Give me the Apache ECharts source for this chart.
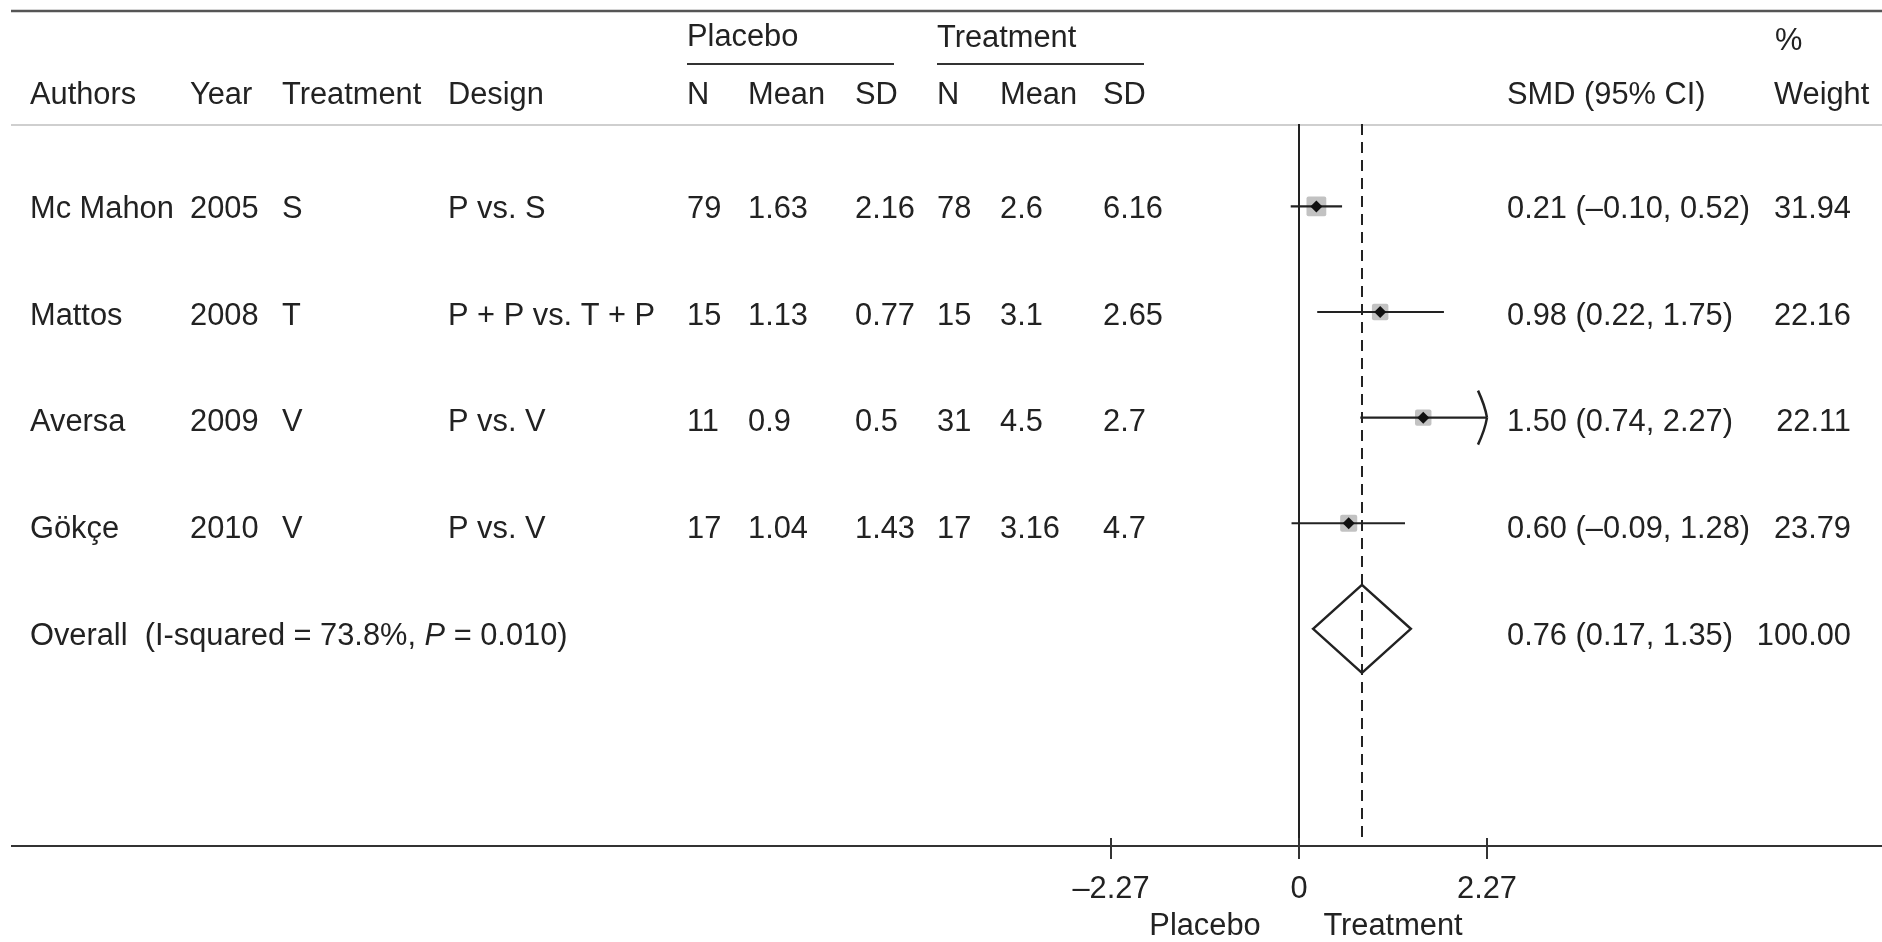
<!DOCTYPE html>
<html>
<head>
<meta charset="utf-8">
<script src="https://cdn.jsdelivr.net/npm/echarts@6/dist/echarts.min.js"></script>
<style>
html,body{margin:0;padding:0;background:#fff;}
#chart{width:1882px;height:942px;}
</style>
</head>
<body>
<div id="chart"></div>
<script>
// ---------- DATA ----------
const authors = ['Mc Mahon', 'Mattos', 'Aversa', 'Gökçe'];
const years = ['2005', '2008', '2009', '2010'];
const treatments = ['S', 'T', 'V', 'V'];
const designs = ['P vs. S', 'P + P vs. T + P', 'P vs. V', 'P vs. V'];
const placeboN = ['79', '15', '11', '17'];
const placeboMean = ['1.63', '1.13', '0.9', '1.04'];
const placeboSD = ['2.16', '0.77', '0.5', '1.43'];
const treatN = ['78', '15', '31', '17'];
const treatMean = ['2.6', '3.1', '4.5', '3.16'];
const treatSD = ['6.16', '2.65', '2.7', '4.7'];
const smd = [0.21, 0.98, 1.50, 0.60];
const ciLow = [-0.10, 0.22, 0.74, -0.09];
const ciHigh = [0.52, 1.75, 2.27, 1.28];
const weights = [31.94, 22.16, 22.11, 23.79];
const overallSMD = 0.76, overallLow = 0.17, overallHigh = 1.35, overallWeight = 100.00;
const iSquared = '73.8', pValue = '0.010';
const tickValues = [-2.27, 0, 2.27];
const axisSideLabels = ['Placebo', 'Treatment'];

// ---------- LAYOUT / STYLE ----------
const FONT = "'Liberation Sans', Arial, sans-serif";
const FS = 30.8;
const TXT = '#222';
const colX = {authors: 30, year: 190, treat: 282, design: 448, pN: 687, pMean: 748, pSD: 855,
              tN: 937, tMean: 1000, tSD: 1103, smd: 1507, weight: 1851};
const sqK = 3.5;
const Y_MIN = 0.22, Y_MAX = 6.98;

function fmt(v) { return (v < 0 ? '\u2013' : '') + Math.abs(v).toFixed(2); }
function ciText(m, l, h) { return fmt(m) + ' (' + fmt(l) + ', ' + fmt(h) + ')'; }

const rows = authors.map((a, i) => i + 1);
const overallRow = authors.length + 1;

function colSeries(x, texts, align) {
  return {
    type: 'scatter', xAxisIndex: 2, yAxisIndex: 1, symbolSize: 0, silent: true,
    itemStyle: {color: 'rgba(0,0,0,0)', opacity: 1},
    label: {show: true, position: align === 'right' ? 'left' : 'right', distance: 0, offset: [0, 2],
            formatter: '{b}', color: TXT, fontFamily: FONT, fontSize: FS},
    data: texts.map((t, i) => ({name: t, value: [x, rows[i] !== undefined ? rows[i] : overallRow]}))
  };
}

const forestData = smd.map((m, i) => [m, rows[i], ciLow[i], ciHigh[i], weights[i]]);

const chart = echarts.init(document.getElementById('chart'));
const option = {
  backgroundColor: '#fff',
  animation: false,
  grid: [
    {left: 1111, top: 124, width: 376, height: 722},
    {left: 0, right: 0, top: 124, height: 722}
  ],
  xAxis: [
    {type: 'value', gridIndex: 0, min: tickValues[0], max: tickValues[2], interval: tickValues[2],
     axisLine: {show: false}, splitLine: {show: false},
     axisTick: {show: true, length: 21, lineStyle: {color: '#333', width: 2}},
     axisLabel: {show: true, margin: 36, color: TXT, fontFamily: FONT, fontSize: FS,
       formatter: v => (Math.abs(v) < 1e-9 ? '0' : fmt(v))}},
    {type: 'category', gridIndex: 0, position: 'bottom', data: axisSideLabels,
     axisLine: {show: false}, axisTick: {show: false}, splitLine: {show: false},
     axisLabel: {margin: 73, color: TXT, fontFamily: FONT, fontSize: FS}},
    {type: 'value', gridIndex: 1, min: 0, max: 1882, show: false}
  ],
  yAxis: [
    {type: 'value', gridIndex: 0, min: Y_MIN, max: Y_MAX, inverse: true, show: false},
    {type: 'value', gridIndex: 1, min: Y_MIN, max: Y_MAX, inverse: true, show: false}
  ],
  graphic: [
    {type: 'line', shape: {x1: 11, y1: 11, x2: 1882, y2: 11}, style: {stroke: '#555', lineWidth: 2.5}},
    {type: 'line', shape: {x1: 11, y1: 125, x2: 1882, y2: 125}, style: {stroke: '#cfcfcf', lineWidth: 2}},
    {type: 'line', shape: {x1: 11, y1: 846, x2: 1882, y2: 846}, style: {stroke: '#333', lineWidth: 2}},
    {type: 'line', shape: {x1: 687, y1: 64, x2: 894, y2: 64}, style: {stroke: '#333', lineWidth: 2}},
    {type: 'line', shape: {x1: 937, y1: 64, x2: 1144, y2: 64}, style: {stroke: '#333', lineWidth: 2}},
    ...[
      ['Placebo', 687, 38], ['Treatment', 937, 39], ['%', 1775, 42],
      ['Authors', colX.authors, 96], ['Year', colX.year, 96], ['Treatment', colX.treat, 96],
      ['Design', colX.design, 96], ['N', colX.pN, 96], ['Mean', colX.pMean, 96], ['SD', colX.pSD, 96],
      ['N', colX.tN, 96], ['Mean', colX.tMean, 96], ['SD', colX.tSD, 96],
      ['SMD (95% CI)', colX.smd, 96], ['Weight', 1774, 96]
    ].map(([t, x, y]) => ({type: 'text', x: x, y: y, silent: true,
      style: {text: t, fill: TXT, font: FS + 'px ' + FONT, align: 'left', verticalAlign: 'middle'}}))
  ],
  series: [
    colSeries(colX.authors, authors),
    colSeries(colX.year, years),
    colSeries(colX.treat, treatments),
    colSeries(colX.design, designs),
    colSeries(colX.pN, placeboN),
    colSeries(colX.pMean, placeboMean),
    colSeries(colX.pSD, placeboSD),
    colSeries(colX.tN, treatN),
    colSeries(colX.tMean, treatMean),
    colSeries(colX.tSD, treatSD),
    colSeries(colX.smd, smd.map((m, i) => ciText(m, ciLow[i], ciHigh[i])).concat([ciText(overallSMD, overallLow, overallHigh)])),
    colSeries(colX.weight, weights.map(w => w.toFixed(2)).concat([overallWeight.toFixed(2)]), 'right'),
    {
      type: 'scatter', xAxisIndex: 2, yAxisIndex: 1, symbolSize: 0, silent: true,
      itemStyle: {color: 'rgba(0,0,0,0)', opacity: 1},
      label: {show: true, position: 'right', distance: 0, offset: [0, 2], color: TXT, fontFamily: FONT, fontSize: FS,
        formatter: '{n|Overall  (I-squared = ' + iSquared + '%, }{i|P}{n| = ' + pValue + ')}',
        rich: {n: {color: TXT, fontFamily: FONT, fontSize: FS},
               i: {color: TXT, fontFamily: FONT, fontSize: FS, fontStyle: 'italic'}}},
      data: [{name: 'Overall', value: [colX.authors, overallRow]}]
    },
    {
      type: 'custom', xAxisIndex: 0, yAxisIndex: 0, silent: true,
      data: forestData,
      renderItem: function (params, api) {
        const m = api.value(0), r = api.value(1), lo = api.value(2), hi = api.value(3), w = api.value(4);
        const pc = api.coord([m, r]);
        const pl = api.coord([lo, r]);
        const ph = api.coord([hi, r]);
        const s = sqK * Math.sqrt(w);
        const children = [
          {type: 'rect', shape: {x: pc[0] - s / 2, y: pc[1] - s / 2, width: s, height: s, r: 2},
           style: {fill: '#c2c2c2'}},
          {type: 'line', shape: {x1: pl[0], y1: pl[1], x2: ph[0], y2: ph[1]},
           style: {stroke: '#222', lineWidth: 2.2}},
          {type: 'polygon', shape: {points: [[pc[0] - 6, pc[1]], [pc[0], pc[1] - 6], [pc[0] + 6, pc[1]], [pc[0], pc[1] + 6]]},
           style: {fill: '#111'}}
        ];
        if (hi >= tickValues[2] - 1e-9) {
          children.push({type: 'bezierCurve', shape: {x1: ph[0] - 9, y1: ph[1] - 27, x2: ph[0], y2: ph[1], cpx1: ph[0] - 2, cpy1: ph[1] - 12},
            style: {stroke: '#222', lineWidth: 2.5, fill: null}});
          children.push({type: 'bezierCurve', shape: {x1: ph[0] - 9, y1: ph[1] + 27, x2: ph[0], y2: ph[1], cpx1: ph[0] - 2, cpy1: ph[1] + 12},
            style: {stroke: '#222', lineWidth: 2.5, fill: null}});
        }
        return {type: 'group', children: children};
      },
      markLine: {
        silent: true, symbol: ['none', 'none'], label: {show: false},
        data: [
          {xAxis: 0, lineStyle: {color: '#222', width: 2, type: 'solid'}},
          {xAxis: overallSMD, lineStyle: {color: '#222', width: 2, type: [11, 7]}}
        ]
      }
    },
    {
      type: 'custom', xAxisIndex: 0, yAxisIndex: 0, silent: true,
      data: [[overallSMD, overallRow, overallLow, overallHigh]],
      renderItem: function (params, api) {
        const r = api.value(1);
        const pc = api.coord([api.value(0), r]);
        const pl = api.coord([api.value(2), r]);
        const ph = api.coord([api.value(3), r]);
        const h = 44;
        return {type: 'polygon',
          shape: {points: [[pl[0], pl[1]], [pc[0], pc[1] - h], [ph[0], ph[1]], [pc[0], pc[1] + h]]},
          style: {fill: 'none', stroke: '#222', lineWidth: 2.5}};
      }
    }
  ]
};
chart.setOption(option);
</script>
</body>
</html>
